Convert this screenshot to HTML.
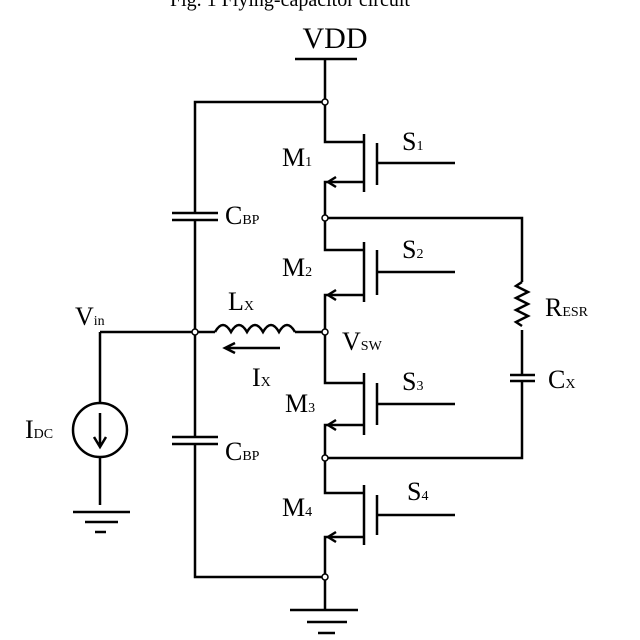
<!DOCTYPE html>
<html><head><meta charset="utf-8"><style>
html,body{margin:0;padding:0;background:#fff;width:640px;height:640px;overflow:hidden}
svg text{font-family:"Liberation Serif",serif;fill:#000}
</style></head><body>
<svg width="640" height="640" viewBox="0 0 640 640" stroke="#000" stroke-width="2.5" fill="none">
<text x="170" y="6" font-size="20" stroke="none" fill="#999">Fig. 1 Flying-capacitor circuit</text>
<text x="335" y="48" font-size="30" text-anchor="middle" stroke="none">VDD</text>
<g>
<path d="M295 59H357M325 59V142H364M364 182H325V250H364M364 295H325V383H364M364 425H325V493H364M364 537H325V610"/>
<path d="M325 102H195V213M195 220V437M195 444V577H325"/>
<path d="M325 218H522V282M522 330V375M522 381V458H325"/>
<path d="M100 332H215M295 332H325M100 332V403M100 457V505"/>
<path d="M290 610H358M307 622H347M318 633H335M73 512H130M85 522H118M95 532H106"/>
<path d="M172 213H218M172 220H218M172 437H218M172 444H218M510 375H535M510 381H535"/>
</g>
<g>
<path d="M364 134V192M377 143V185M377 163H455"/>
<path d="M364 242V302M377 250V295M377 272H455"/>
<path d="M364 373V435M377 383V425M377 404H455"/>
<path d="M364 485V545M377 495V535M377 515H455"/>
<path d="M336 177L328 182L336 187M336 290L328 295L336 300M336 420L328 425L336 430M336 532L328 537L336 542"/>
</g>
<path d="M215 332q8-14 16 0q8-14 16 0q8-14 16 0q8-14 16 0q8-14 16 0"/>
<path d="M522 282l-6 4l12 6l-12 6l12 6l-12 6l12 6l-12 6l6 4"/>
<path d="M280 348H225M235 343l-10 5l10 5"/>
<circle cx="100" cy="430" r="27"/>
<path d="M100 413V445M94 437l6 10l6-10"/>
<g fill="#fff" stroke-width="1.5">
<circle cx="325" cy="102" r="3"/><circle cx="325" cy="218" r="3"/><circle cx="325" cy="332" r="3"/>
<circle cx="195" cy="332" r="3"/><circle cx="325" cy="458" r="3"/><circle cx="325" cy="577" r="3"/>
</g>
<g stroke="none" font-size="26">
<text x="282" y="166">M<tspan font-size="14">1</tspan></text>
<text x="402" y="150">S<tspan font-size="14">1</tspan></text>
<text x="225" y="224">C<tspan font-size="14">BP</tspan></text>
<text x="282" y="276">M<tspan font-size="14">2</tspan></text>
<text x="402" y="258">S<tspan font-size="14">2</tspan></text>
<text x="545" y="316">R<tspan font-size="14">ESR</tspan></text>
<text x="228" y="310">L<tspan font-size="14">X</tspan></text>
<text x="342" y="350">V<tspan font-size="14">SW</tspan></text>
<text x="75" y="325">V<tspan font-size="14">in</tspan></text>
<text x="252" y="386">I<tspan font-size="14">X</tspan></text>
<text x="285" y="412">M<tspan font-size="14">3</tspan></text>
<text x="402" y="390">S<tspan font-size="14">3</tspan></text>
<text x="548" y="388">C<tspan font-size="14">X</tspan></text>
<text x="25" y="438">I<tspan font-size="14">DC</tspan></text>
<text x="225" y="460">C<tspan font-size="14">BP</tspan></text>
<text x="282" y="516">M<tspan font-size="14">4</tspan></text>
<text x="407" y="500">S<tspan font-size="14">4</tspan></text>
</g>
</svg>
</body></html>
